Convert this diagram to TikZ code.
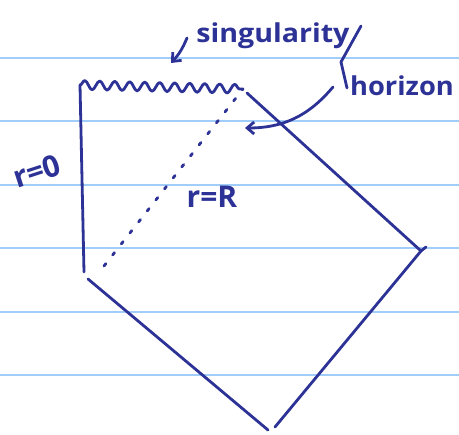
\documentclass[tikz,border=0pt]{standalone}
\usepackage{fontspec}
\setmainfont{Open Sans}
\usetikzlibrary{decorations.pathmorphing,arrows.meta}
\definecolor{ink}{RGB}{45,50,150}
\definecolor{rule}{RGB}{160,205,250}
\begin{document}
\begin{tikzpicture}[x=1pt,y=-1pt,line cap=round,line join=round,
  pen/.style={ink,line width=2.8pt},
  hand/.style={ink,font=\fontsize{26}{26}\selectfont\bfseries,inner sep=0pt}]
\useasboundingbox (0,0) rectangle (459,435);
\foreach \y in {58,121,185,248,312,375}
  \draw[rule,line width=2pt] (0,\y) -- (459,\y);
\coordinate (tl) at (80,85);
\coordinate (tr) at (243,89);
\coordinate (bl) at (84,272);
\coordinate (bm) at (88,279);
\coordinate (bot) at (268,430);
\coordinate (rt) at (421,251);
\coordinate (hz) at (247,93);
\draw[pen,decorate,decoration={snake,amplitude=4.5pt,segment length=15pt}] (tl) -- (tr);
\draw[pen] (tl) -- (bl);
\draw[pen] (bm) -- (bot);
\draw[pen] (hz) -- (rt);
\draw[pen] (rt) -- (275,427);
\draw[pen] (rt) -- ++(5,-4);
\draw[pen,dash pattern=on 3pt off 11pt] (104,266) -- (tr);
\node[hand,xscale=1.1] (sing) at (273,36) {singularity};
\node[hand,xscale=1.05] (hor) at (402,86) {horizon};
\node[hand,font=\fontsize{30}{30}\selectfont\bfseries,rotate=18] (r0) at (37,171) {r=0};
\node[hand,font=\fontsize{30}{30}\selectfont\bfseries] (rR) at (212,197) {r=R};
\coordinate (brt) at (361,26);
\coordinate (brm) at (341,62);
\coordinate (brb) at (347,88);
\draw[pen] (brt) -- (brm) -- (brb);
\coordinate (sa) at (187,38);
\coordinate (sb) at (171,63);
\draw[pen,-{Straight Barb[length=7pt,width=12pt]}] (sa) to[bend left=10] (sb);
\coordinate (ha) at (333,87);
\coordinate (hb) at (245,128);
\draw[pen,-{Straight Barb[length=7pt,width=12pt]}] (ha) to[bend left=25] (hb);
\end{tikzpicture}
\end{document}
